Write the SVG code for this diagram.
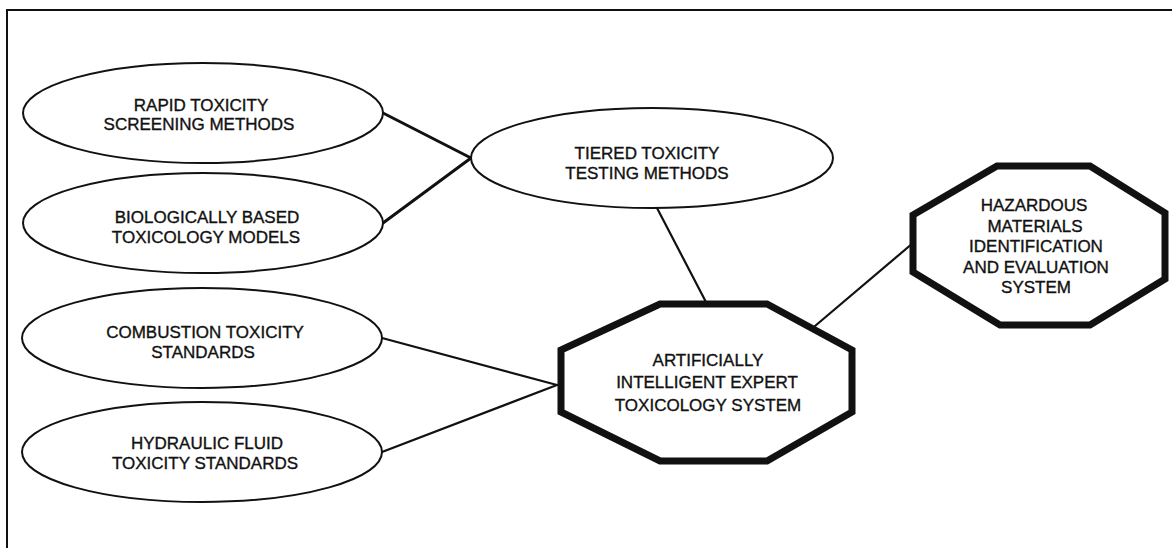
<svg xmlns="http://www.w3.org/2000/svg" width="1172" height="548" viewBox="0 0 1172 548">
<style>
.bg{fill:#fff}
.frame{fill:none;stroke:#111;stroke-width:2}
.oval{fill:#fff;stroke:#111;stroke-width:2}
.oct{fill:#fff;stroke:#111;stroke-width:7;stroke-linejoin:miter}
.conn{fill:none;stroke:#111;stroke-width:2.2;stroke-linecap:round}
.thick{stroke-width:3}
text{font-family:"Liberation Sans",Arial,sans-serif;font-size:17px;fill:#111;stroke:#111;stroke-width:0.35;text-anchor:middle;dominant-baseline:central}
</style>
<rect class="bg" x="0" y="0" width="1172" height="548"/>
<path class="frame" d="M7,548 V10 H1172"/>
<g id="connectors">
  <line class="conn thick" x1="383" y1="113" x2="471" y2="158"/>
  <line class="conn thick" x1="383" y1="223" x2="471" y2="158"/>
  <line class="conn" x1="657" y1="208" x2="707" y2="304"/>
  <line class="conn" x1="382" y1="338" x2="557" y2="385"/>
  <line class="conn" x1="382" y1="452" x2="557" y2="385"/>
  <line class="conn" x1="815" y1="326" x2="913" y2="243"/>
</g>
<g id="rapid">
  <ellipse class="oval" cx="203" cy="113" rx="180" ry="50"/>
  <text x="201" y="105">RAPID TOXICITY</text>
  <text x="199" y="124">SCREENING METHODS</text>
</g>
<g id="biological">
  <ellipse class="oval" cx="203" cy="223" rx="180" ry="50"/>
  <text x="207" y="217">BIOLOGICALLY BASED</text>
  <text x="206" y="237">TOXICOLOGY MODELS</text>
</g>
<g id="tiered">
  <ellipse class="oval" cx="652" cy="158" rx="181" ry="50"/>
  <text x="647" y="153">TIERED TOXICITY</text>
  <text x="647" y="173">TESTING METHODS</text>
</g>
<g id="combustion">
  <ellipse class="oval" cx="202" cy="338" rx="180" ry="50"/>
  <text x="205" y="332">COMBUSTION TOXICITY</text>
  <text x="203" y="352">STANDARDS</text>
</g>
<g id="hydraulic">
  <ellipse class="oval" cx="202" cy="452" rx="180" ry="50"/>
  <text x="207" y="443">HYDRAULIC FLUID</text>
  <text x="205" y="463">TOXICITY STANDARDS</text>
</g>
<g id="expert-system">
  <polygon class="oct" points="660,304 767,304 852,350 852,412 767,461 660,461 561,412 561,350"/>
  <text x="708" y="360">ARTIFICIALLY</text>
  <text x="707" y="382">INTELLIGENT EXPERT</text>
  <text x="708" y="405">TOXICOLOGY SYSTEM</text>
</g>
<g id="hazardous">
  <polygon class="oct" points="997,166 1090,166 1165,213 1165,279 1090,325 1000,325 913,272 913,215"/>
  <text x="1034" y="205">HAZARDOUS</text>
  <text x="1035" y="226">MATERIALS</text>
  <text x="1036" y="246">IDENTIFICATION</text>
  <text x="1036" y="267">AND EVALUATION</text>
  <text x="1036" y="287">SYSTEM</text>
</g>
</svg>
